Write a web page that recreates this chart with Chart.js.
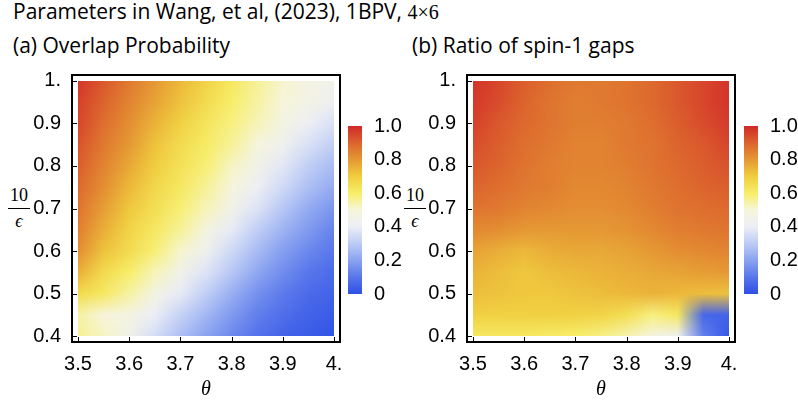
<!DOCTYPE html>
<html>
<head>
<meta charset="utf-8">
<script src="https://cdn.jsdelivr.net/npm/chart.js@4"></script>
<style>
  body { margin: 0; background: #fff; width: 798px; height: 405px; position: relative; overflow: hidden; font-family: "Open Sans", Lato, sans-serif; color: #000; }
  .abs { position: absolute; white-space: nowrap; }
  #title { left: 13px; top: -3px; font-size: 21px; }
  #title .m { font-family: "Liberation Serif", serif; font-size: 20px; }
  .sub { top: 31px; font-size: 21px; }
  .frac { width: 24px; text-align: center; font-family: "Liberation Serif", serif; font-size: 18px; line-height: 17px; }
  .frac .bar { border-top: 1px solid #000; margin: 4px 1px 4px; }
  .frac .eps { font-style: italic; }
  canvas { position: absolute; }
</style>
</head>
<body>
<div id="title" class="abs">Parameters in Wang, et al, (2023), 1BPV, <span class="m">4×6</span></div>
<div class="abs sub" style="left:13px">(a) Overlap Probability</div>
<div class="abs sub" style="left:412px">(b) Ratio of spin-1 gaps</div>
<div class="abs frac" style="left:7px; top:187px"><div>10</div><div class="bar"></div><div class="eps">ϵ</div></div>
<div class="abs frac" style="left:403px; top:187px"><div>10</div><div class="bar"></div><div class="eps">ϵ</div></div>

<canvas id="panelA" width="345" height="345" style="left:0; top:60px"></canvas>
<canvas id="barA" width="60" height="200" style="left:345px; top:110px"></canvas>
<canvas id="panelB" width="345" height="345" style="left:395px; top:60px"></canvas>
<canvas id="barB" width="57" height="200" style="left:741px; top:110px"></canvas>

<script>
// grid of theta (columns) and 10/eps (rows, top to bottom)
const thetaVals = [3.5, 3.55, 3.6, 3.65, 3.7, 3.75, 3.8, 3.85, 3.9, 3.95, 4.0];
const ratioVals = [1.0, 0.95, 0.9, 0.85, 0.8, 0.75, 0.7, 0.65, 0.6, 0.55, 0.5, 0.45, 0.4];

const xTicks = [3.5, 3.6, 3.7, 3.8, 3.9, 4.0];
const xTickLabels = ["3.5", "3.6", "3.7", "3.8", "3.9", "4."];
const yTicks = [0.4, 0.5, 0.6, 0.7, 0.8, 0.9, 1.0];
const yTickLabels = ["0.4", "0.5", "0.6", "0.7", "0.8", "0.9", "1."];
const cbTicks = [0, 0.2, 0.4, 0.6, 0.8, 1.0];
const cbTickLabels = ["0", "0.2", "0.4", "0.6", "0.8", "1.0"];

// (a) overlap probability, one row per 10/eps value
const overlapProb = [
  [0.98, 0.92, 0.86, 0.80, 0.74, 0.68, 0.62, 0.56, 0.51, 0.47, 0.45],
  [0.96, 0.90, 0.84, 0.78, 0.72, 0.66, 0.60, 0.55, 0.50, 0.46, 0.42],
  [0.95, 0.88, 0.82, 0.75, 0.69, 0.63, 0.58, 0.53, 0.47, 0.41, 0.36],
  [0.93, 0.86, 0.80, 0.72, 0.66, 0.61, 0.56, 0.49, 0.43, 0.36, 0.31],
  [0.91, 0.84, 0.77, 0.70, 0.64, 0.59, 0.52, 0.45, 0.38, 0.31, 0.26],
  [0.89, 0.82, 0.74, 0.67, 0.62, 0.56, 0.49, 0.41, 0.34, 0.27, 0.22],
  [0.87, 0.79, 0.71, 0.65, 0.59, 0.53, 0.45, 0.37, 0.29, 0.22, 0.17],
  [0.85, 0.76, 0.68, 0.62, 0.56, 0.48, 0.39, 0.31, 0.24, 0.18, 0.13],
  [0.82, 0.72, 0.66, 0.59, 0.51, 0.43, 0.34, 0.26, 0.19, 0.14, 0.10],
  [0.76, 0.66, 0.60, 0.53, 0.45, 0.37, 0.29, 0.21, 0.15, 0.10, 0.07],
  [0.66, 0.62, 0.55, 0.47, 0.39, 0.31, 0.23, 0.16, 0.11, 0.07, 0.05],
  [0.55, 0.50, 0.47, 0.40, 0.32, 0.25, 0.18, 0.12, 0.08, 0.05, 0.03],
  [0.56, 0.52, 0.45, 0.35, 0.27, 0.20, 0.14, 0.09, 0.05, 0.03, 0.01]
];

// (b) ratio of spin-1 gaps
const gapRatio = [
  [0.98, 0.95, 0.91, 0.88, 0.86, 0.86, 0.87, 0.89, 0.92, 0.95, 0.98],
  [0.97, 0.94, 0.90, 0.87, 0.85, 0.86, 0.87, 0.89, 0.92, 0.95, 0.98],
  [0.96, 0.92, 0.89, 0.87, 0.85, 0.85, 0.86, 0.88, 0.91, 0.94, 0.97],
  [0.94, 0.91, 0.88, 0.86, 0.84, 0.84, 0.86, 0.87, 0.90, 0.92, 0.95],
  [0.92, 0.90, 0.87, 0.85, 0.84, 0.84, 0.85, 0.87, 0.89, 0.91, 0.93],
  [0.90, 0.88, 0.86, 0.85, 0.83, 0.83, 0.84, 0.86, 0.88, 0.90, 0.91],
  [0.87, 0.86, 0.84, 0.83, 0.82, 0.82, 0.83, 0.85, 0.87, 0.88, 0.89],
  [0.83, 0.82, 0.80, 0.80, 0.80, 0.80, 0.81, 0.83, 0.85, 0.86, 0.87],
  [0.78, 0.76, 0.74, 0.76, 0.77, 0.77, 0.78, 0.80, 0.82, 0.83, 0.84],
  [0.75, 0.73, 0.71, 0.73, 0.74, 0.75, 0.76, 0.77, 0.78, 0.79, 0.80],
  [0.73, 0.72, 0.71, 0.71, 0.72, 0.73, 0.74, 0.75, 0.74, 0.73, 0.72],
  [0.69, 0.69, 0.69, 0.69, 0.69, 0.68, 0.65, 0.58, 0.62, 0.06, 0.05],
  [0.62, 0.62, 0.62, 0.61, 0.60, 0.58, 0.54, 0.48, 0.42, 0.12, 0.02]
];

// colour scheme (value -> rgb)
const cmapStops = [0, 0.1, 0.2, 0.3, 0.4, 0.5, 0.6, 0.7, 0.8, 0.9, 1.0];
const cmapColors = [
  [45, 80, 230], [88, 118, 235], [138, 163, 240], [188, 203, 245], [236, 238, 246],
  [246, 245, 218], [247, 238, 105], [240, 205, 62], [229, 152, 52], [220, 100, 45], [210, 40, 42]
];

function colorAt(v) {
  v = Math.max(0, Math.min(1, v));
  for (let k = 1; k < cmapStops.length; k++) {
    if (v <= cmapStops[k]) {
      const t = (v - cmapStops[k - 1]) / (cmapStops[k] - cmapStops[k - 1]);
      const a = cmapColors[k - 1], b = cmapColors[k];
      return [a[0] + (b[0] - a[0]) * t, a[1] + (b[1] - a[1]) * t, a[2] + (b[2] - a[2]) * t];
    }
  }
  return cmapColors[cmapColors.length - 1];
}

function gridPos(arr, v) {
  let f = (v - arr[0]) / (arr[1] - arr[0]);
  f = Math.max(0, Math.min(arr.length - 1.0001, f));
  const i = Math.floor(f);
  return [i, f - i];
}

// paints the density plot inside the data range, using the chart's scales
const heatmap = {
  id: "heatmap",
  beforeDatasetsDraw(chart, args, opts) {
    const { ctx, scales: { x, y } } = chart;
    const cols = opts.values.map(row => row.map(colorAt));
    const left = Math.round(x.getPixelForValue(thetaVals[0]));
    const right = Math.round(x.getPixelForValue(thetaVals[thetaVals.length - 1]));
    const top = Math.round(y.getPixelForValue(ratioVals[0]));
    const bottom = Math.round(y.getPixelForValue(ratioVals[ratioVals.length - 1]));
    const w = right - left, h = bottom - top;
    const off = document.createElement("canvas");
    off.width = w; off.height = h;
    const octx = off.getContext("2d");
    const img = octx.createImageData(w, h);
    for (let j = 0; j < h; j++) {
      const [r, ty] = gridPos(ratioVals, y.getValueForPixel(top + j + 0.5));
      for (let i = 0; i < w; i++) {
        const [c, tx] = gridPos(thetaVals, x.getValueForPixel(left + i + 0.5));
        const p = (j * w + i) * 4;
        for (let k = 0; k < 3; k++) {
          const a = cols[r][c][k] * (1 - tx) + cols[r][c + 1][k] * tx;
          const b = cols[r + 1][c][k] * (1 - tx) + cols[r + 1][c + 1][k] * tx;
          img.data[p + k] = a * (1 - ty) + b * ty;
        }
        img.data[p + 3] = 255;
      }
    }
    octx.putImageData(img, 0, 0);
    ctx.drawImage(off, left, top);
  }
};

// black frame with inward ticks
const frame = {
  id: "frame",
  afterDraw(chart) {
    const { ctx, chartArea: a, scales: { x, y } } = chart;
    ctx.save();
    ctx.strokeStyle = "#000";
    ctx.lineWidth = 2;
    ctx.strokeRect(a.left, a.top, a.right - a.left, a.bottom - a.top);
    ctx.lineWidth = 1;
    ctx.beginPath();
    xTicks.forEach(v => {
      const px = Math.round(x.getPixelForValue(v)) + 0.5;
      ctx.moveTo(px, a.bottom); ctx.lineTo(px, a.bottom - 5);
    });
    yTicks.forEach(v => {
      const py = Math.round(y.getPixelForValue(v)) + 0.5;
      ctx.moveTo(a.left, py); ctx.lineTo(a.left + 5, py);
    });
    ctx.stroke();
    ctx.restore();
  }
};

const tickFont = { family: "'Liberation Sans', Arial, sans-serif", size: 20 };
const padX = 0.0117, padY = 0.014;

function makePanel(id, values) {
  const points = [];
  ratioVals.forEach(r => thetaVals.forEach(t => points.push({ x: t, y: r })));
  return new Chart(document.getElementById(id), {
    type: "scatter",
    data: { datasets: [{ data: points, pointRadius: 0 }] },
    options: {
      responsive: false,
      animation: false,
      events: [],
      layout: { padding: { top: 15, right: 5, left: 0, bottom: 0 } },
      plugins: { legend: { display: false }, tooltip: { enabled: false }, heatmap: { values } },
      scales: {
        x: {
          type: "linear",
          min: thetaVals[0] - padX,
          max: thetaVals[thetaVals.length - 1] + padX,
          afterBuildTicks: s => { s.ticks = xTicks.map(v => ({ value: v })); },
          afterFit: s => { s.height = 63; },
          ticks: { callback: (v, i) => xTickLabels[i], font: tickFont, color: "#000", padding: 2, maxRotation: 0, autoSkip: false },
          grid: { display: false },
          border: { display: false },
          title: { display: true, text: "θ", color: "#000", font: { family: "'Liberation Serif', serif", style: "italic", size: 20 }, padding: { top: 0, bottom: 3 } }
        },
        y: {
          type: "linear",
          min: ratioVals[ratioVals.length - 1] - padY,
          max: ratioVals[0] + padY,
          afterBuildTicks: s => { s.ticks = yTicks.map(v => ({ value: v })); },
          afterFit: s => { s.width = 72; },
          ticks: { callback: (v, i) => yTickLabels[i], font: tickFont, color: "#000", padding: 3, autoSkip: false },
          grid: { display: false },
          border: { display: false }
        }
      }
    },
    plugins: [heatmap, frame]
  });
}

function makeColorBar(id) {
  const cv = document.getElementById(id);
  return new Chart(cv, {
    type: "bar",
    data: {
      labels: ["scale"],
      datasets: [{
        data: [[0, 1]],
        barPercentage: 1,
        categoryPercentage: 1,
        borderWidth: 0,
        backgroundColor: ctx => {
          const area = ctx.chart.chartArea;
          if (!area) return "#888";
          const g = ctx.chart.ctx.createLinearGradient(0, area.bottom, 0, area.top);
          cmapStops.forEach((s, k) => g.addColorStop(s, "rgb(" + cmapColors[k].join(",") + ")"));
          return g;
        }
      }]
    },
    options: {
      responsive: false,
      animation: false,
      events: [],
      layout: { padding: { top: 13, bottom: 12, left: 3, right: 0 } },
      plugins: { legend: { display: false }, tooltip: { enabled: false } },
      scales: {
        x: { display: false },
        y: {
          position: "right",
          min: 0,
          max: 1,
          afterBuildTicks: s => { s.ticks = cbTicks.map(v => ({ value: v })); },
          afterFit: s => { s.width = cv.width - 17; },
          ticks: { callback: (v, i) => cbTickLabels[i], font: tickFont, color: "#000", padding: 4 },
          grid: { display: false },
          border: { display: false }
        }
      }
    }
  });
}

makePanel("panelA", overlapProb);
makePanel("panelB", gapRatio);
makeColorBar("barA");
makeColorBar("barB");
</script>
</body>
</html>
